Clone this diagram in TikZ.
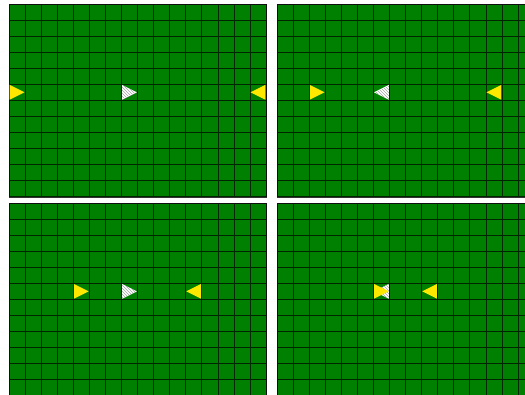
\documentclass[tikz,border=0pt]{standalone}
\usepackage{xcolor}
\usepackage{tikz}
\usetikzlibrary{patterns}
\definecolor{fieldgreen}{RGB}{0, 128, 0}
\definecolor{tokyellow}{RGB}{255, 232, 0}
\definecolor{stripegray}{RGB}{165, 165, 165}

\tikzset{
  field/.style={fill=fieldgreen, draw=black!80, line width=0.4pt},
  gridline/.style={draw=black, opacity=0.7, line width=0.5pt},
  yellowtok/.style={fill=tokyellow, draw=none},
  greytok/.style={fill=white, draw=none},
  greystripes/.style={pattern=north west lines, pattern color=stripegray},
}

\begin{document}
\begin{tikzpicture}[x=1pt, y=-1pt]

  \useasboundingbox (0,0) rectangle (525,394);
  \clip (0,0) rectangle (525,394);

  \coordinate (P1) at (9, 4);
  \coordinate (P2) at (277, 4);
  \coordinate (P3) at (9, 203);
  \coordinate (P4) at (277, 203);

  % Top left field
  \begin{scope}[shift={(P1)}, x=16.06pt, y=-16.06pt]
    \draw[field] (0,0) rectangle (16,12);
    \draw[gridline, step=16.06pt] (0,0) grid (16,12);
    \fill[yellowtok] (0.04,5.04) -- (0.96,5.5) -- (0.04,5.96) -- cycle;
    \fill[greytok] (7.04,5.04) -- (7.96,5.5) -- (7.04,5.96) -- cycle;
    \fill[greystripes] (7.04,5.04) -- (7.96,5.5) -- (7.04,5.96) -- cycle;
    \fill[yellowtok] (15.96,5.04) -- (15.04,5.5) -- (15.96,5.96) -- cycle;
  \end{scope}

  % Top right field
  \begin{scope}[shift={(P2)}, x=16.06pt, y=-16.06pt]
    \draw[field] (0,0) rectangle (16,12);
    \draw[gridline, step=16.06pt] (0,0) grid (16,12);
    \fill[yellowtok] (2.04,5.04) -- (2.96,5.5) -- (2.04,5.96) -- cycle;
    \fill[greytok] (6.96,5.04) -- (6.04,5.5) -- (6.96,5.96) -- cycle;
    \fill[greystripes] (6.96,5.04) -- (6.04,5.5) -- (6.96,5.96) -- cycle;
    \fill[yellowtok] (13.96,5.04) -- (13.04,5.5) -- (13.96,5.96) -- cycle;
  \end{scope}

  % Bottom left field
  \begin{scope}[shift={(P3)}, x=16.06pt, y=-16.06pt]
    \draw[field] (0,0) rectangle (16,12);
    \draw[gridline, step=16.06pt] (0,0) grid (16,12);
    \fill[yellowtok] (4.04,5.04) -- (4.96,5.5) -- (4.04,5.96) -- cycle;
    \fill[greytok] (7.04,5.04) -- (7.96,5.5) -- (7.04,5.96) -- cycle;
    \fill[greystripes] (7.04,5.04) -- (7.96,5.5) -- (7.04,5.96) -- cycle;
    \fill[yellowtok] (11.96,5.04) -- (11.04,5.5) -- (11.96,5.96) -- cycle;
  \end{scope}

  % Bottom right field
  \begin{scope}[shift={(P4)}, x=16.06pt, y=-16.06pt]
    \draw[field] (0,0) rectangle (16,12);
    \draw[gridline, step=16.06pt] (0,0) grid (16,12);
    \fill[greytok] (6.96,5.04) -- (6.04,5.5) -- (6.96,5.96) -- cycle;
    \fill[greystripes] (6.96,5.04) -- (6.04,5.5) -- (6.96,5.96) -- cycle;
    \fill[yellowtok] (6.04,5.04) -- (6.96,5.5) -- (6.04,5.96) -- cycle;
    \fill[yellowtok] (9.96,5.04) -- (9.04,5.5) -- (9.96,5.96) -- cycle;
  \end{scope}

\end{tikzpicture}
\end{document}
